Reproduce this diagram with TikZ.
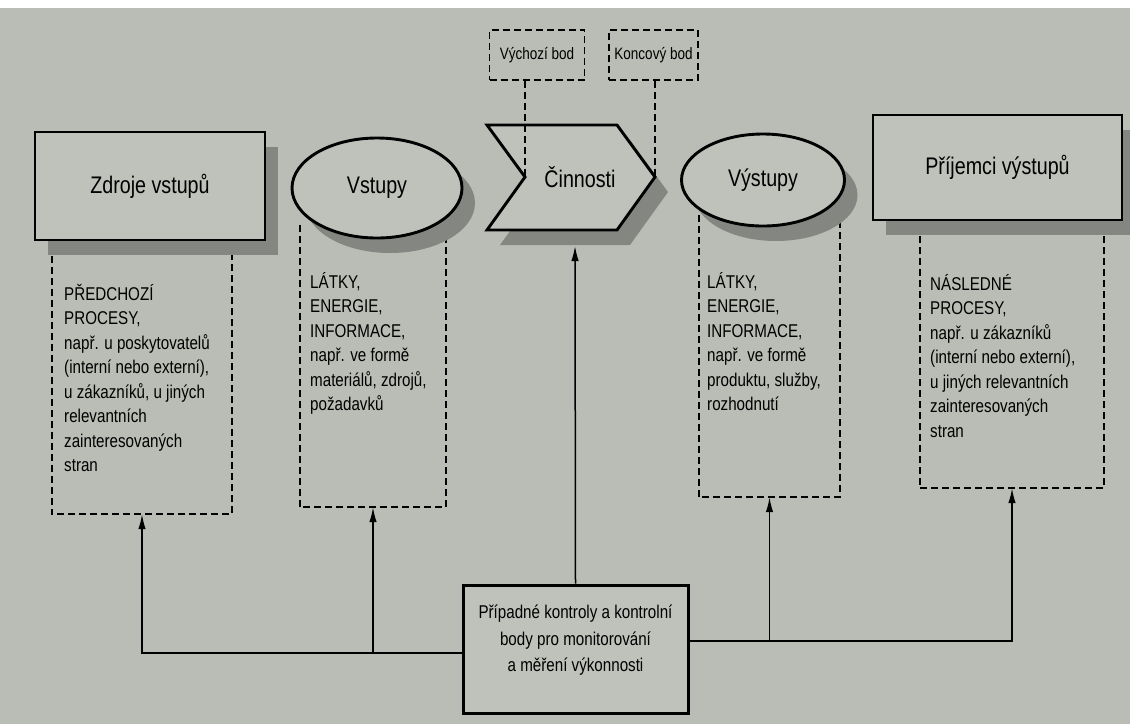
\documentclass[tikz,border=0pt]{standalone}
\usepackage{fontspec}
\setmainfont[FakeStretch=0.82]{Liberation Sans}
\usetikzlibrary{shapes.geometric,shadows,arrows.meta}
\definecolor{paper}{RGB}{186,189,181}
\definecolor{face}{RGB}{191,194,187}
\definecolor{shadowgray}{RGB}{132,134,130}

\begin{document}
\begin{tikzpicture}[x=1pt,y=-1pt,
   box/.style={draw,line width=2.9pt,fill=face,inner sep=0pt,font=\fontsize{24}{28}\selectfont},
   shadowed/.style={drop shadow={shadow xshift=13pt,shadow yshift=-15pt,fill=shadowgray,opacity=1}},
   dashbox/.style={dash pattern=on 7pt off 4pt,line width=1.9pt},
   frame/.style={inner sep=0pt},
   note/.style={anchor=north west,align=left,inner sep=0pt,font=\fontsize{18.5}{24.5}\selectfont},
   flow/.style={line width=1.5pt,-{Latex[length=15pt,width=7.5pt]}}]
   % Paper
   \fill[paper] (0,0) rectangle (1130,724);
   \fill[white] (0,0) rectangle (1130,8);
   \useasboundingbox (0,0) rectangle (1130,724);

   % Dashed boxes under the shapes
   \node[frame,minimum width=180pt,minimum height=269pt] (d1) at (142,379.5) {};
   \node[frame,minimum width=146pt,minimum height=282pt] (d2) at (373,366) {};
   \node[frame,minimum width=141pt,minimum height=282pt] (d4) at (769.5,356) {};
   \node[frame,minimum width=184pt,minimum height=263pt] (d5) at (1012,356.5) {};
   \foreach \d in {d1,d2,d4,d5}
      \draw[dashbox] (\d.north west) |- (\d.south east) -- (\d.north east);

   % Shapes
   \node[box,shadowed,minimum width=230pt,minimum height=108pt] (src) at (150,186) {Zdroje vstupů};
   \node[box,ellipse,shadowed,minimum width=170pt,minimum height=100pt] (in) at (377,188) {Vstupy};
   \coordinate (notch) at (525,177);
   \coordinate (tip) at (655,177);
   \filldraw[fill=face,line width=2.9pt,shadowed] (487,125) -- (617,125) -- (tip)
      -- (617,230) -- (487,230) -- (notch) -- cycle;
   \node[font=\fontsize{24}{28}\selectfont] (act) at (580,177) {Činnosti};
   \coordinate (actbase) at (575,246);
   \node[box,ellipse,shadowed,minimum width=163pt,minimum height=92pt] (out) at (763,180) {Výstupy};
   \node[box,shadowed,minimum width=249pt,minimum height=105pt] (dst) at (997.5,167.5) {Příjemci výstupů};

   % Start and end points
   \node[draw,dashbox,minimum width=95pt,minimum height=50pt,font=\fontsize{16.5}{20}\selectfont] (start) at (537,55) {Výchozí bod};
   \node[draw,dashbox,minimum width=89pt,minimum height=50pt,font=\fontsize{16.5}{20}\selectfont] (end) at (653.5,55) {Koncový bod};
   \draw[dashbox] (start.south -| notch) -- (notch);
   \draw[dashbox] (end.south -| tip) -- (tip);

   % Texts in the dashed boxes
   \node[note] (n1) at (64,284) {PŘEDCHOZÍ\\PROCESY,\\např. u poskytovatelů\\(interní nebo externí),\\u zákazníků, u jiných\\relevantních\\zainteresovaných\\stran};
   \node[note] (n2) at (310,272) {LÁTKY,\\ENERGIE,\\INFORMACE,\\např. ve formě\\materiálů, zdrojů,\\požadavků};
   \node[note] (n4) at (707,272) {LÁTKY,\\ENERGIE,\\INFORMACE,\\např. ve formě\\produktu, služby,\\rozhodnutí};
   \node[note] (n5) at (930,274) {NÁSLEDNÉ\\PROCESY,\\např. u zákazníků\\(interní nebo externí),\\u jiných relevantních\\zainteresovaných\\stran};

   % Controls
   \node[box,line width=3pt,align=center,minimum width=225pt,minimum height=128pt,
      font=\fontsize{18.5}{26.5}\selectfont] (ctrl) at (575.5,649) {Případné kontroly a kontrolní\\body pro monitorování\\a měření výkonnosti\\[-5.5pt]};
   \coordinate (lw) at ([yshift=-4pt]ctrl.west);
   \coordinate (re) at ([yshift=8pt]ctrl.east);
   \draw[flow] (lw) -| (d1.south);
   \draw[flow] (d2.south |- lw) -- (d2.south);
   \draw[flow] (re) -| (d5.south);
   \draw[flow] (d4.south |- re) -- (d4.south);
   \draw[flow] (ctrl.north) -- (actbase);
\end{tikzpicture}
\end{document}
